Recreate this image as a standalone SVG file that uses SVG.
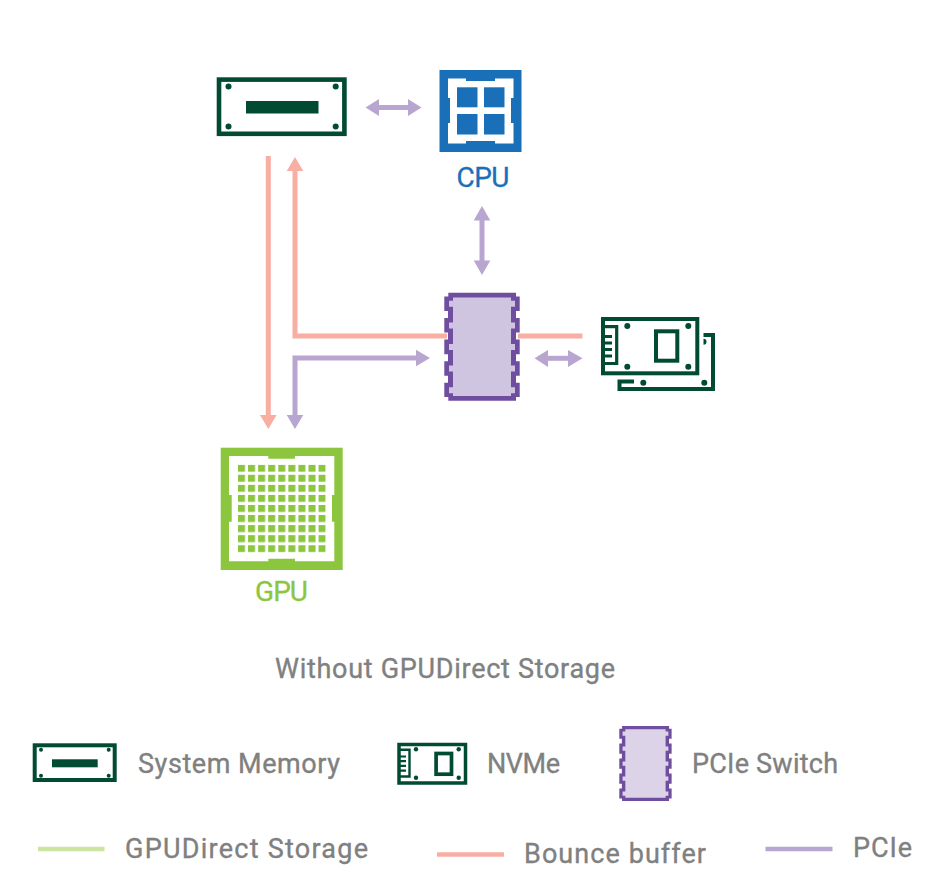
<svg xmlns="http://www.w3.org/2000/svg" width="936" height="888" viewBox="0 0 936 888">
<style>
.t{font-family:Roboto,"Liberation Sans",sans-serif;font-size:27px;font-weight:400;fill:#808080;stroke:#808080;stroke-width:.35}
.big{font-family:Roboto,"Liberation Sans",sans-serif;font-size:28px;font-weight:400;stroke-width:.3}
.dg{fill:#004b32}
.dgs{fill:none;stroke:#004b32;stroke-width:4}
.fin{fill:none;stroke:#004b32;stroke-width:3.2}
.sal{fill:none;stroke:#f9aea3;stroke-width:5}
.pur{fill:none;stroke:#b8a6d0;stroke-width:5}
.salh{fill:#f9aea3}
.purh{fill:#b8a6d0}
.leg{fill:none;stroke-width:4.5}
.swo{fill:#6f4e9f}
</style>
<defs>
<pattern id="grid" patternUnits="userSpaceOnUse" x="238" y="464.7" width="10.07" height="10.07"><rect width="7" height="7" fill="#8cc63f"/></pattern>
<g id="swIcon">
<path class="swo" d="M448.300 292.700H516V296.500H519.700V311H516V318H519.700V332.600H516V339.600H519.700V354.200H516V361.200H519.700V375.800H516V382.800H519.700V397H516V400.700H448.300V397H444.300V382.800H448V375.800H444.300V361.200H448V354.200H444.300V339.600H448V332.600H444.300V318H448V311H444.300V296.500H448.300Z"/>
<path d="M453 297.500H511V300.800H515V306.800H511V322.400H515V328.400H511V344H515V350H511V365.600H515V371.600H511V387.200H515V393.200H511V396H453V393.200H449V387.200H453V371.600H449V365.600H453V350H449V344H453V328.400H449V322.400H453V306.800H449V300.800H453Z"/>
</g>
</defs>

<g id="connectors">
<path class="sal" d="M268.300 156V416"/><path class="salh" d="M260 415H276.600L268.300 429Z"/>
<path class="sal" d="M447 336H295V170"/><path class="salh" d="M286.700 171H303.300L295 157Z"/>
<path class="sal" d="M518 336H582.500"/>
<path class="pur" d="M295 416V358H417"/>
<path class="purh" d="M286.700 415H303.300L295 429Z"/><path class="purh" d="M416 349.700V366.300L430 358Z"/>
<path class="pur" d="M378 107.500H409"/>
<path class="purh" d="M379 99V116L365.500 107.500Z"/><path class="purh" d="M408 99V116L421.500 107.500Z"/>
<path class="pur" d="M482 219V262"/>
<path class="purh" d="M473.700 220.500H490.300L482 206Z"/><path class="purh" d="M473.700 260.500H490.300L482 275Z"/>
<path class="pur" d="M547 358.300H570"/>
<path class="purh" d="M548 350V367L534.500 358.300Z"/><path class="purh" d="M568 350V367L582.500 358.300Z"/>
</g>

<g id="memory">
<rect x="219" y="79.600" width="125.400" height="54.200" class="dgs" style="stroke-width:4.600"/>
<rect x="246" y="101" width="72.500" height="12.500" class="dg"/>
<circle cx="228.500" cy="86.500" r="3" class="dg"/><circle cx="335.700" cy="86.500" r="3" class="dg"/>
<circle cx="228.500" cy="126.500" r="3" class="dg"/><circle cx="335.700" cy="126.500" r="3" class="dg"/>
</g>

<g id="cpu">
<rect x="439.500" y="70" width="82" height="82" fill="#1a70b8"/>
<path fill="#fff" d="M448 78.500H466V81H495V78.500H513.500V98H511V123H513.500V143.500H495V141H466V143.500H448V123H450V98H448Z"/>
<g fill="#1a70b8"><rect x="457" y="87.300" width="20.500" height="20"/><rect x="484" y="87.300" width="20.500" height="20"/><rect x="457" y="114" width="20.500" height="20.500"/><rect x="484" y="114" width="20.500" height="20.500"/></g>
<text x="483" y="187.300" text-anchor="middle" class="big" fill="#1a70b8" stroke="#1a70b8" textLength="53" lengthAdjust="spacing">CPU</text>
</g>

<g id="switch"><use href="#swIcon" fill="#cfc5e0"/></g>

<g id="nvme">
<rect x="603" y="319" width="94.300" height="54.300" class="dgs"/>
<path class="fin" d="M603 326.700H616.700V363.500H603"/>
<path class="fin" d="M603 336.500H612M603 343H612M603 349.500H612M603 356H612"/>
<rect x="656" y="331.300" width="21.300" height="29.400" class="dgs"/>
<circle cx="627.300" cy="326" r="3" class="dg"/><circle cx="688.300" cy="326" r="3" class="dg"/>
<circle cx="627.300" cy="366.700" r="3" class="dg"/><circle cx="688.300" cy="366.700" r="3" class="dg"/>
<path class="dgs" d="M703.500 335H713V389H619.500V381.500H634"/>
<path class="dg" d="M703.500 338.700A3 3 0 0 1 703.500 344.700Z"/>
<circle cx="643.300" cy="382.700" r="3" class="dg"/><circle cx="704.300" cy="382.700" r="3" class="dg"/>
</g>

<g id="gpu">
<rect x="220.700" y="447.700" width="122" height="122.300" fill="#8cc63f"/>
<path fill="#fff" d="M229 456H268.300V458.700H295V456H334.300V495H332V521.700H334.300V561.300H295V558.700H268.300V561.300H229V521.700H231.700V495H229Z"/>
<rect x="238" y="464.700" width="87.700" height="87.700" fill="url(#grid)"/>
<text x="281.500" y="601" text-anchor="middle" class="big" fill="#8cc63f" stroke="#8cc63f" textLength="53" lengthAdjust="spacing">GPU</text>
</g>

<text id="title" x="275" y="678" class="t" textLength="340" lengthAdjust="spacing">Without GPUDirect Storage</text>

<g id="legend-memory">
<rect x="34.700" y="745.300" width="80" height="34.700" class="dgs"/>
<rect x="52" y="759.300" width="45.700" height="8" class="dg"/>
<circle cx="41" cy="749.800" r="2" class="dg"/><circle cx="108.700" cy="749.800" r="2" class="dg"/>
<circle cx="41" cy="775.700" r="2" class="dg"/><circle cx="108.700" cy="775.700" r="2" class="dg"/>
<text x="138" y="773" class="t" textLength="202" lengthAdjust="spacing">System Memory</text>
</g>
<g id="legend-nvme">
<rect x="399" y="744.500" width="66.500" height="38.500" class="dgs" style="stroke-width:3.500"/>
<path class="fin" style="stroke-width:2.400" d="M399 749.800H409.500V776.500H399"/>
<path class="fin" style="stroke-width:2.200" d="M399 756.500H406M399 761.200H406M399 765.900H406M399 770.600H406"/>
<rect x="436.100" y="753.500" width="15.400" height="20.700" class="dgs" style="stroke-width:3.700"/>
<circle cx="416" cy="749.300" r="2.200" class="dg"/><circle cx="458.700" cy="749.300" r="2.200" class="dg"/>
<circle cx="416" cy="777.700" r="2.200" class="dg"/><circle cx="458.700" cy="777.700" r="2.200" class="dg"/>
<text x="487" y="773" class="t" textLength="73" lengthAdjust="spacing">NVMe</text>
</g>
<g id="legend-switch">
<use href="#swIcon" fill="#dcd3e8" transform="translate(619.300 726) scale(.694) translate(-444.300 -292.700)"/>
<text x="692" y="773" class="t" textLength="146" lengthAdjust="spacing">PCIe Switch</text>
</g>
<g id="legend-gds">
<path d="M38 849H104.500" class="leg" stroke="#cbe4a0"/>
<text x="125" y="858" class="t" textLength="243" lengthAdjust="spacing">GPUDirect Storage</text>
</g>
<g id="legend-bounce">
<path d="M437 854.500H504" class="leg" stroke="#f9aea3"/>
<text x="524" y="863" class="t" textLength="182" lengthAdjust="spacing">Bounce buffer</text>
</g>
<g id="legend-pcie">
<path d="M765.500 849H832.500" class="leg" stroke="#b8a6d0"/>
<text x="853" y="857" class="t" textLength="59" lengthAdjust="spacing">PCIe</text>
</g>
</svg>
